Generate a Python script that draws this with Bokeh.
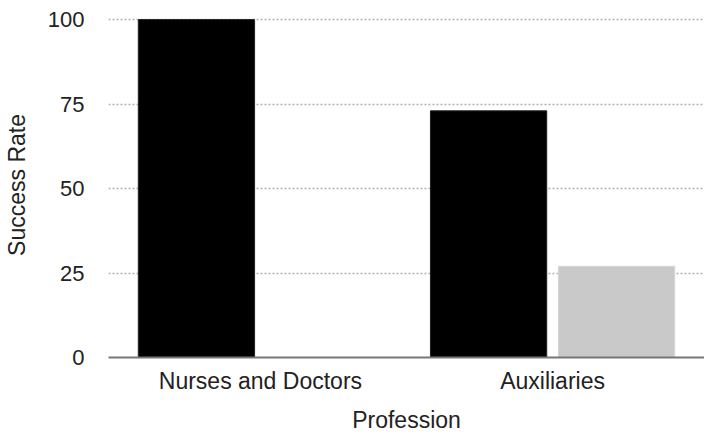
from bokeh.plotting import figure
from bokeh.models import ColumnDataSource, FixedTicker, Range1d, FactorRange
from bokeh.transform import dodge
from bokeh.embed import file_html
from bokeh.resources import INLINE

categories = ["Nurses and Doctors", "Auxiliaries"]
series_dark = [100, 73]
series_light = [0, 27]
y_ticks = [0, 25, 50, 75, 100]

source = ColumnDataSource(data=dict(cat=categories, dark=series_dark, light=series_light))

FONT = "Liberation Sans"

p = figure(
    x_range=FactorRange(*categories, range_padding=0.02, range_padding_units="absolute"),
    y_range=Range1d(0, 102.1),
    width=704, height=435,
    output_backend="svg", toolbar_location=None,
    min_border_left=100, min_border_right=0, min_border_top=12, min_border_bottom=60,
    x_axis_label="Profession", y_axis_label="Success Rate",
)
p.outline_line_color = None
p.background_fill_color = "white"

p.vbar(x=dodge("cat", -0.219, range=p.x_range), top="dark", width=0.398, source=source,
       fill_color="black", line_color="#222222", line_width=1)
p.vbar(x=dodge("cat", 0.219, range=p.x_range), top="light", width=0.398, source=source,
       fill_color="#c9c9c9", line_color="#d6d6d6", line_width=1)

p.xgrid.grid_line_color = None
p.ygrid.grid_line_color = "#b0b0b0"
p.ygrid.grid_line_dash = "2 2"
p.ygrid.grid_line_width = 1.5
p.ygrid.level = "underlay"

p.yaxis.ticker = FixedTicker(ticks=y_ticks)
p.yaxis.axis_line_color = None
p.yaxis.major_tick_line_color = None
p.yaxis.minor_tick_line_color = None
p.yaxis.major_label_standoff = 18
p.yaxis.axis_label_standoff = 15

p.xaxis.axis_line_color = "#777777"
p.xaxis.axis_line_width = 2
p.xaxis.major_tick_line_color = None
p.xaxis.minor_tick_line_color = None
p.xaxis.major_label_standoff = 4
p.xaxis.axis_label_standoff = 10

for ax in (p.xaxis, p.yaxis):
    ax.major_label_text_font = FONT
    ax.major_label_text_color = "#222222"
    ax.axis_label_text_font = FONT
    ax.axis_label_text_font_size = "23px"
    ax.axis_label_text_font_style = "normal"
    ax.axis_label_text_color = "#222222"
p.yaxis.major_label_text_font_size = "22px"
p.xaxis.major_label_text_font_size = "23px"

open("out.html", "w").write(file_html(p, INLINE))
